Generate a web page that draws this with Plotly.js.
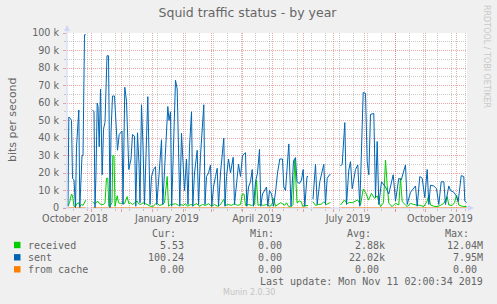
<!DOCTYPE html>
<html><head><meta charset="utf-8">
<script src="https://cdn.plot.ly/plotly-3.0.1.min.js"></script>
<style>html,body{margin:0;padding:0;background:#f0f0f0;}#chart{width:497px;height:304px;}</style>
</head><body><div id="chart"></div>
<script>
// time axis: days counted from 2018-10-01 00:00
const rangeStart = '2018-10-07 12:00';
const rangeEnd = '2019-11-11 12:00';

const sentDays = [7.5,8.3,10,11,12,13.5,15,16,18.3,19.3,21.5,22.5,24,25.3,26,
32,33.5,34.5,35.5,36.7,37.5,38.7,40,41.7,43,44.5,46.5,48,49.5,50.5,52,54,55.5,57,58.7,61.5,62.5,64.3,66,68.3,70.5,72,74,75.3,77,78.5,79.5,81,82.5,84,87.3,88.5,89.5,91,93,95,96.3,98,101,102.3,104,107.3,108.5,110,111.2,113,115,116.7,118,119.3,121,122.5,124,126,127.5,129,131,132.3,134,136.7,138,140,143.3,144.5,146,148,150,151.3,153,155,156.7,158,160,163.3,164.5,166,168,170,172.7,174,176,178,180,182,185,186.3,188,190,191.7,193,195,197,199,200.3,202,204,206,207.3,209,211,213,215,217,219.3,222,223.3,225,228.3,230.5,233,235,236.5,239,241,242.7,244.3,246.5,247.5,249,
252.5,255,256.7,259.3,263.3,265,266.7,269,270,272,
280,281.7,284.3,286,288.3,290,291.7,295,297.3,299.3,302.7,305,306.7,308.3,310,313.3,315,316.7,318.3,321,325,328.3,332.7,335,338.3,340.7,345,346.7,350,355,356.7,359.3,361.7,364.3,366.7,368.3,370,373.3,376,378.3,380.7,383.3,385,388.3,390,393.3,395.7,397.7,400.7,403.3,404.3,406];
const sentK = [1,52,51,50,17,16,0,35,56,0,30,30,99,99,null,
56,55,0,20,60,58,35,68,19,45,49,87,87,0,43,64,64,50,33,42,44,2,69,61,22,28,42,41,1,43,25,3,59,35,2,63.6,30,2,18,22,23.6,2,15,39,2,20,58,50,55,1,35,73,68,40,1,42.7,25,10,28,2,35,55,1,20,33,2,30,59,2,18,20,24.6,1,12,18,22.7,1,20,40,1,18,28,20,29,2,15,25,18,30,31.6,1,12,15,22,1,15,20,33.5,1,8,10,12,1,10,8,1,9,20,28,28,12,10,36.6,1,27,28.8,15,14,16,22,1,18,18,null,
5,25,2,15,25,2,17,19,19,null,
24,25,48.8,2,21.7,26.5,11,22,24.6,1,66,65.5,26.5,19,53.5,54,6,38,2,15,12,8,19,4,17,16,24.6,2,9,12.6,1,18,17,6,22,2,13,12.6,11,2,15,15,2,12.6,10,9,7,3.6,18.5,18,4,3];

const receivedDays = [7.5,9,11,12,13.5,15,16.5,18,19.5,21,22.5,24,25.3,26,
32,34,36,37,39,41,43,44.5,46,47.3,48.3,50,51.5,52.3,53.5,54.5,56.7,58,60,62,64,66.7,68.3,70,72,74,76.7,78,80,83,86,88,90,93,95,97,99,102,104,106.7,108,110,112,115,118,120,123,125,127,130,133,136,139,142,145,148,151,154,157,160,163.3,165,168,171,174,177,180,181.7,183.5,185,188,191,194,196,197.5,200,203,206,209,211,213.3,215,218,220,222,224,226,228,230,232.5,234.3,235.5,236.5,239,241,242,245,247.5,249,
252.5,255,258,261,263.3,266,269,270,272,
280,282,284,286.7,289,291.7,294,297.3,300,302.7,305,306.7,308,311,314,316.7,320,323,325,326.7,328.3,331.7,335,338.3,340,341.7,345,346.7,350,353,356.7,360,363.3,366.7,368.3,370,373.3,376.7,380,383.3,386.7,388.3,391.7,394,396,398.3,401.7,405,406];
const receivedK = [1,3,8,7,1,1,2.5,3,1,2,1.5,3,4.5,null,
3.5,2.5,3,4,2.5,2,2,3,17,17,1,1.5,3,30,30,1,7,3,2.5,3,2.5,6.5,2.5,3,2,3,4,2.5,2,3,2,1.5,1,1,2.5,2.5,1.5,2,3,18,1,2,2,2.5,1.5,2,1.5,2.5,1,2,1.5,2.5,1,2,1.5,2.5,1,2,1,2,5,1.5,2,1.5,2.5,1.5,2,7.8,8,1.5,2,1.5,2,16,1.5,2,1.5,2,1,1.5,5.5,1,2,3,2.5,1.5,3,1,0.5,2,27.8,10,3,4,3.5,1,1.5,1.5,null,
3.6,1.5,2,2.2,3.6,2,3,3,null,
1.7,3,4.6,2.5,3.2,3,3.8,4.6,1.7,10.8,9,6,4.5,8.4,5.5,6.9,0.8,3,27.4,13,2.7,0.8,2.7,1.7,17,3.6,1.5,0.8,2.7,2,1.7,1.5,0.8,4,7.4,1.7,1,0.8,1.5,2.7,6.5,1.7,1.5,3,7.4,1.7,1,0.8,0.8];

const cacheDays = [7.5,25.3,26,32,247.5,249,252.5,270,272,280,406];
const cacheK = [0,0,null,0,0,null,0,0,null,0,0];

const monthStarts = ['2018-11-01','2018-12-01','2019-01-01','2019-02-01','2019-03-01','2019-04-01','2019-05-01','2019-06-01','2019-07-01','2019-08-01','2019-09-01','2019-10-01','2019-11-01'];
const quarterLabelDates = ['2018-10-15 12:00','2019-01-15 12:00','2019-04-15 12:00','2019-07-15 12:00','2019-10-15 12:00'];
const quarterLabels = ['October 2018','January 2019','April 2019','July 2019','October 2019'];
const yTickVals = [0,10,20,30,40,50,60,70,80,90,100];
const yTickText = ['0','10 k','20 k','30 k','40 k','50 k','60 k','70 k','80 k','90 k','100 k'];

const legendNames = ['received','sent','from cache'];
const legendColors = ['#00cc00','#0066b3','#ff8000'];
const curVals = ['5.53','100.24','0.00'];
const minVals = ['0.00','0.00','0.00'];
const avgVals = ['2.88k','22.02k','0.00'];
const maxVals = ['12.04M','7.95M','0.00'];
const headers = ['Cur:','Min:','Avg:','Max:'];
const lastUpdate = 'Last update: Mon Nov 11 02:00:34 2019';

function dayToDate(d){
  const dt = new Date(Date.UTC(2018,9,1) + d*86400000);
  return dt.toISOString().slice(0,19).replace('T',' ');
}

const W = 497, H = 304, L = 67, R = 467, T = 33, B = 208;
const px = x => (x - L) / (R - L);
const py = y => (B - y) / (B - T);

const mono = 'DejaVu Sans Mono, monospace';
const sans = 'DejaVu Sans, sans-serif';
const fc = '#666666';
const mgrid = 'rgba(222,79,79,0.5)';
const grid = 'rgba(143,143,143,0.45)';
const axisCol = '#cfd6f8';

const traces = [
  {x: receivedDays.map(dayToDate), y: receivedK, type:'scatter', mode:'lines', line:{color:legendColors[0], width:1}, connectgaps:false, hoverinfo:'skip'},
  {x: sentDays.map(dayToDate), y: sentK, type:'scatter', mode:'lines', line:{color:legendColors[1], width:1}, connectgaps:false, hoverinfo:'skip'},
  {x: cacheDays.map(dayToDate), y: cacheK, type:'scatter', mode:'lines', line:{color:legendColors[2], width:1}, connectgaps:false, hoverinfo:'skip', xaxis:'x2'}
];

const ann = [];
function txt(text, x, y, xa, opts){
  ann.push(Object.assign({text, xref:'paper', yref:'paper', x:px(x), y:py(y), xanchor:xa, yanchor:'middle', showarrow:false, borderpad:0, font:{family:mono, size:10, color:fc}}, opts||{}));
}
const headRight = [177, 275, 372, 470];
headers.forEach((h,i)=>txt(h, headRight[i], 233, 'right'));
const rowY = [245, 257.3, 269.3];
const shapes = [];
legendNames.forEach((n,i)=>{
  txt(n, 26.5, rowY[i], 'left');
  txt(curVals[i], 184.5, rowY[i], 'right');
  txt(minVals[i], 282.5, rowY[i], 'right');
  txt(avgVals[i], i===2 ? 379.5 : 385.5, rowY[i], 'right');
  txt(maxVals[i], i===2 ? 477.5 : 483.5, rowY[i], 'right');
  shapes.push({type:'rect', xref:'paper', yref:'paper', x0:px(14), x1:px(20.5), y0:py(rowY[i]+3.2), y1:py(rowY[i]-3.2), fillcolor:legendColors[i], line:{width:0}});
});
txt(lastUpdate, 483.5, 281.7, 'right');
txt('Munin 2.0.30', 249, 292.7, 'center', {font:{family:sans, size:8, color:'#c4c4c4'}});
txt('RRDTOOL / TOBI OETIKER', 487, 56, 'center', {textangle:90, font:{family:sans, size:8, color:'#c8c8c8'}});
txt('bits per second', 12, 119, 'center', {textangle:-90, font:{family:sans, size:11, color:fc}});

// axis lines with arrows
shapes.push({type:'line', xref:'paper', yref:'paper', x0:px(67), x1:px(67), y0:py(208.5), y1:py(29), line:{color:axisCol, width:1}});
shapes.push({type:'path', xref:'paper', yref:'paper', path:`M ${px(64)},${py(31)} L ${px(70)},${py(31)} L ${px(67)},${py(25)} Z`, fillcolor:axisCol, line:{width:0}});
shapes.push({type:'line', xref:'paper', yref:'paper', x0:px(63), x1:px(470), y0:py(208), y1:py(208), line:{color:axisCol, width:1}, layer:'below'});
shapes.push({type:'path', xref:'paper', yref:'paper', path:`M ${px(468)},${py(205)} L ${px(468)},${py(211)} L ${px(474)},${py(208)} Z`, fillcolor:axisCol, line:{width:0}});

const layout = {
  width: W, height: H,
  margin: {l: L, r: W - R, t: T, b: H - B, pad: 0},
  paper_bgcolor: '#f0f0f0', plot_bgcolor: '#ffffff',
  showlegend: false,
  title: {text: 'Squid traffic status - by year', font:{family:sans, size:12.5, color:fc}, x: px(247.5), xref:'paper', xanchor:'center', y: 1 - 13/H, yref:'container', yanchor:'middle'},
  xaxis: {
    type:'date', range:[rangeStart, rangeEnd], tickmode:'array', tickvals: monthStarts, showticklabels:false,
    showgrid:true, gridcolor:mgrid, griddash:'1px,1px', gridwidth:1,
    ticks:'outside', ticklen:3, tickcolor:mgrid, showline:false, zeroline:false,
    minor:{tickmode:'linear', tick0:'2018-10-14', dtick:14*86400000, showgrid:true, gridcolor:grid, griddash:'1px,1px', ticks:'outside', ticklen:2, tickcolor:grid}
  },
  xaxis2: {
    type:'date', range:[rangeStart, rangeEnd], overlaying:'x', anchor:'y', side:'bottom',
    tickmode:'array', tickvals: quarterLabelDates, ticktext: quarterLabels,
    showgrid:false, zeroline:false, showline:false, ticks:'', ticklabelstandoff:3,
    tickfont:{family:sans, size:9.6, color:fc}
  },
  yaxis: {
    range:[0, 100], tickmode:'array', tickvals: yTickVals, ticktext: yTickText,
    showgrid:true, gridcolor:mgrid, griddash:'1px,1px', gridwidth:1,
    ticks:'outside', ticklen:3, tickcolor:mgrid, showline:false, zeroline:false, ticklabelstandoff:2,
    tickfont:{family:sans, size:9.6, color:fc},
    minor:{tickmode:'linear', tick0:5, dtick:10, showgrid:true, gridcolor:grid, griddash:'1px,1px', ticks:'outside', ticklen:2, tickcolor:grid}
  },
  annotations: ann,
  shapes: shapes
};

Plotly.newPlot('chart', traces, layout, {staticPlot:true, displayModeBar:false});
</script></body></html>
